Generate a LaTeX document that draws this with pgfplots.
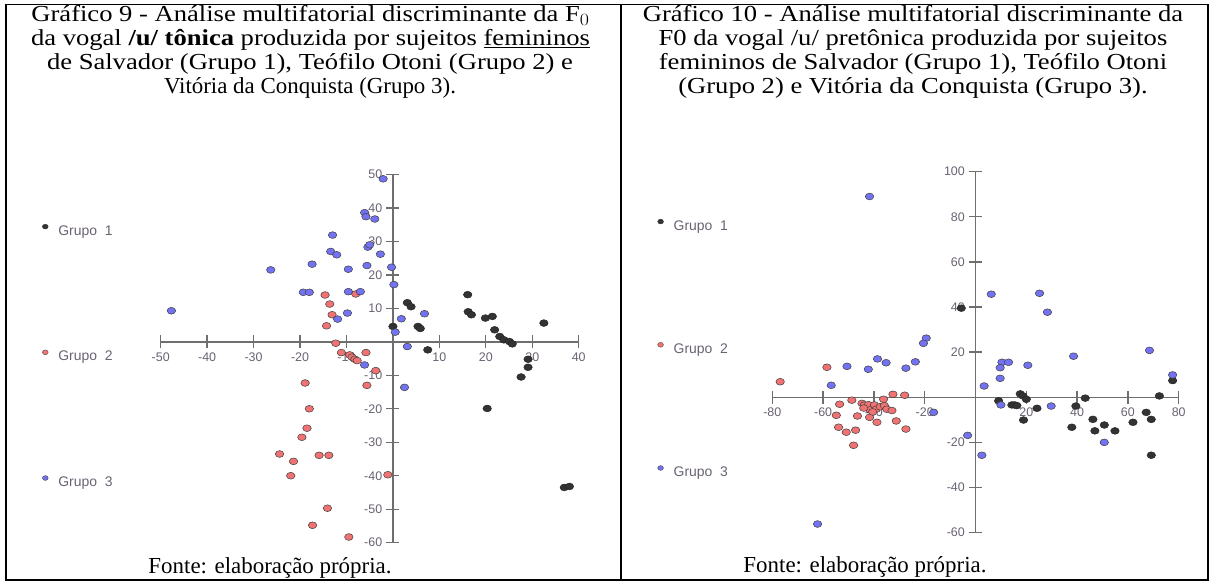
\documentclass[border=0pt]{standalone}
\usepackage{graphicx}
\usepackage{pgfplots}
\usepackage{pgfplotstable}
\pgfplotsset{compat=1.18}
\usepackage{fontspec}
\setmainfont{Liberation Serif}
\newfontfamily\arial{Liberation Sans}

\definecolor{gA}{HTML}{333333}
\definecolor{gB}{HTML}{F07272}
\definecolor{gC}{HTML}{7272F2}
\definecolor{axc}{HTML}{6E6E6E}
\definecolor{lbl}{HTML}{6A6272}

% wide caption line
\newcommand\wide[1]{\scalebox{1.16}[1]{#1}}

% Gráfico 9: /u/ tônica
\pgfplotstableread{
x y
0 4.6
3.1 11.7
3.9 10.5
5.4 4.6
5.9 4.0
7.5 -2.4
16.1 14.1
16.2 9.0
16.9 8.1
19.9 7.1
21.4 7.6
21.9 3.6
23.0 1.6
23.9 0.6
25.1 0.1
25.7 -0.6
32.5 5.6
29.1 -5.2
29.1 -7.6
27.6 -10.5
20.3 -19.9
36.9 -43.5
38.0 -43.2
}\tonA
\pgfplotstableread{
x y
-14.6 14.0
-13.6 11.3
-13.1 8.1
-14.3 4.8
-8.0 14.3
-12.3 -0.4
-11.1 -3.2
-9.3 -3.9
-8.8 -4.6
-8.2 -5.2
-7.7 -5.6
-5.8 -3.2
-3.7 -8.6
-5.6 -13.0
-18.9 -12.3
-18.0 -20.0
-18.5 -25.8
-19.6 -28.5
-24.4 -33.5
-21.4 -35.7
-22.0 -40.0
-15.9 -33.9
-13.8 -33.9
-1.1 -39.7
-14.1 -49.7
-17.3 -54.8
-9.5 -58.3
}\tonB
\pgfplotstableread{
x y
-2.1 48.7
-47.7 9.3
-26.3 21.5
-13.0 31.9
-13.4 27.0
-12.1 26.0
-17.4 23.2
-9.6 21.7
-6.1 38.6
-5.8 37.4
-3.9 36.7
-5.4 28.3
-5.0 29.0
-2.7 26.2
-5.6 22.8
-0.3 22.3
0.2 17.1
-19.3 14.8
-18.0 14.8
-9.6 15.0
-7.0 15.0
-9.8 8.6
-11.9 6.8
1.8 6.9
6.8 8.4
0.5 2.9
3.1 -1.4
-6.1 -6.9
2.5 -13.6
}\tonC

% Gráfico 10: /u/ pretônica
\pgfplotstableread{
x y
-5.6 39.5
77.6 7.4
72.4 0.6
43.2 -0.4
39.5 -3.9
24.2 -4.9
17.6 1.5
18.7 0.6
20.0 -0.9
9.1 -1.6
14.3 -3.4
15.4 -3.4
16.3 -3.7
18.9 -10.1
37.9 -13.3
46.2 -9.8
47.0 -14.9
50.7 -12.3
54.9 -14.9
62.0 -11.1
67.2 -6.7
69.2 -9.8
69.2 -25.7
}\preA
\pgfplotstableread{
x y
-76.9 6.9
-58.5 13.3
-53.5 -3.1
-48.7 -1.3
-54.8 -8.0
-53.9 -13.3
-50.9 -15.5
-47.2 -14.6
-48.0 -21.3
-46.5 -8.3
-44.7 -2.7
-43.8 -3.5
-42.1 -3.3
-41.5 -5.6
-41.7 -8.9
-39.8 -3.4
-39.1 -5.3
-38.8 -11.1
-37.5 -4.2
-36.2 -0.9
-35.9 -3.7
-34.9 -5.3
-32.9 -5.9
-32.5 1.3
-27.9 0.9
-31.2 -10.5
-27.4 -14.1
-40.5 -6.5
-44.0 -4.8
}\preB
\pgfplotstableread{
x y
-41.7 89.0
-19.4 26.2
-20.5 23.9
-38.6 17.0
-35.2 15.3
-23.7 15.7
-50.6 13.7
-42.2 12.4
-27.4 12.9
-56.8 5.3
-16.5 -6.7
-3.1 -16.9
2.5 -25.7
-62.2 -56.2
3.4 5.0
6.2 45.7
25.2 46.1
28.3 37.7
38.6 18.2
68.5 20.8
77.6 9.9
10.4 15.5
13.0 15.5
9.7 13.1
20.6 14.2
9.7 8.4
10.0 -3.4
29.8 -3.9
50.7 -20.0
}\preC

\pgfplotsset{
  cross/.style={
    scale only axis, clip=false,
    axis lines=middle,
    axis line style={axc, line width=1.3bp, -},
    tick style={axc, line width=1.3bp},
    major tick length=13bp,
    tick align=center,
    ticklabel style={font=\arial\fontsize{12.5}{13}\selectfont, text=lbl, inner sep=0pt},
    xticklabel style={anchor=north, yshift=-4bp},
    yticklabel style={anchor=east, xshift=-4bp},
    legend cell align=left,
    legend style={draw=none, fill=none, inner sep=0pt,
      font=\arial\fontsize{14}{14}\selectfont, text=lbl,
      nodes={inner sep=0pt, text height=10bp, text depth=2bp},
      /tikz/every odd column/.append style={column sep=10bp}},
  },
  dotA/.style={only marks, mark=*, mark size=3.4bp,
    mark options={xscale=1.25, draw=black!85, fill=gA, line width=0.5bp},
    legend image code/.code={\path[draw=black!80, fill=gA, line width=0.4bp] (0bp,4.6bp) ellipse (2.9bp and 2.4bp);}},
  dotB/.style={only marks, mark=*, mark size=3.4bp,
    mark options={xscale=1.25, draw=black!75, fill=gB, line width=0.5bp},
    legend image code/.code={\path[draw=black!70, fill=gB, line width=0.4bp] (0bp,4.6bp) ellipse (2.9bp and 2.4bp);}},
  dotC/.style={only marks, mark=*, mark size=3.4bp,
    mark options={xscale=1.25, draw=black!75, fill=gC, line width=0.5bp},
    legend image code/.code={\path[draw=black!70, fill=gC, line width=0.4bp] (0bp,4.6bp) ellipse (2.9bp and 2.4bp);}},
}

\begin{document}
\begin{tikzpicture}[x=1bp, y=1bp]
\useasboundingbox (0,0) rectangle (1212,582);
\fill[white] (0,0) rectangle (1212,582);

% table frame
\draw[line width=1.6bp] (6,2) rectangle (1208,577.5);
\draw[line width=1.6bp] (621,2) -- (621,577.5);

% captions
\begin{scope}[every node/.style={anchor=base, inner sep=0pt, font=\fontsize{23}{24}\selectfont}]
\node at (310.5,560) {\wide{Gráfico 9 - Análise multifatorial discriminante da F$_0$}};
\node at (310.5,536) {\wide{da vogal \textbf{/u/ tônica} produzida por sujeitos \underline{femininos}}};
\node at (310,512) {\wide{de Salvador (Grupo 1), Teófilo Otoni (Grupo 2) e}};
\node at (310,488) {Vitória da Conquista (Grupo 3).};
\node at (913,560) {\wide{Gráfico 10 - Análise multifatorial discriminante da}};
\node at (913,536) {\wide{F0 da vogal /u/ pretônica produzida por sujeitos}};
\node at (913,512) {\wide{femininos de Salvador (Grupo 1), Teófilo Otoni}};
\node at (913,488) {\wide{(Grupo 2) e Vitória da Conquista (Grupo 3).}};
\node at (270,8) {Fonte: elaboração própria.};
\node at (865,9) {Fonte: elaboração própria.};
\end{scope}

% Gráfico 9
\begin{axis}[cross,
  at={(160.7bp,39.3bp)}, anchor=south west,
  width=418bp, height=368.2bp,
  xmin=-50, xmax=40, ymin=-60, ymax=50,
  xtick={-50,-40,-30,-20,-10,10,20,30,40},
  xticklabels={-50,-40,-30,-20,-10,10,20,30,40},
  ytick={-60,-50,-40,-30,-20,-10,10,20,30,40,50},
  yticklabels={-60,-50,-40,-30,-20,-10,10,20,30,40,50},
  legend style={at={(axis description cs:-0.284,0.866)}, anchor=north west,
    row sep=112.5bp},
]
\addplot[dotA] table[x=x, y=y] {\tonA};
\addplot[dotB] table[x=x, y=y] {\tonB};
\addplot[dotC] table[x=x, y=y] {\tonC};
\legend{Grupo\ \ 1, Grupo\ \ 2, Grupo\ \ 3}
\end{axis}

% Gráfico 10
\begin{axis}[cross,
  at={(772.3bp,49.4bp)}, anchor=south west,
  width=406.4bp, height=360.9bp,
  xmin=-80, xmax=80, ymin=-60, ymax=100,
  xtick={-80,-60,-40,-20,20,40,60,80},
  xticklabels={-80,-60,-40,-20,20,40,60,80},
  ytick={-60,-40,-20,20,40,60,80,100},
  yticklabels={-60,-40,-20,20,40,60,80,100},
  legend style={at={(axis description cs:-0.283,0.8695)}, anchor=north west,
    row sep=110bp},
]
\addplot[dotA] table[x=x, y=y] {\preA};
\addplot[dotB] table[x=x, y=y] {\preB};
\addplot[dotC] table[x=x, y=y] {\preC};
\legend{Grupo\ \ 1, Grupo\ \ 2, Grupo\ \ 3}
\end{axis}
\end{tikzpicture}
\end{document}
